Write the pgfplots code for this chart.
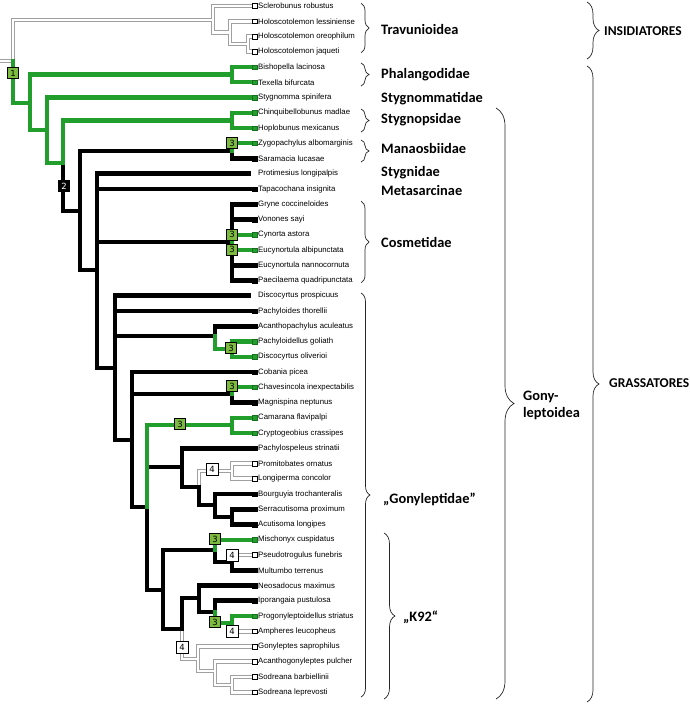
\documentclass[border=0pt]{standalone}
\usepackage{pgfplots}
\pgfplotsset{compat=1.18}
\usepackage{fontspec}
\setmainfont{Liberation Sans}
\newfontfamily\grp{Carlito}
\newfontfamily\boxf{DejaVu Sans}
\usetikzlibrary{decorations.pathreplacing}
\definecolor{brgreen}{RGB}{34,158,44}
\definecolor{boxgreen}{RGB}{124,186,64}
\definecolor{lgray}{RGB}{160,160,160}
\newcommand\leaf{\fontsize{7.8}{9}\selectfont}
\newcommand\grpf{\grp\bfseries\fontsize{14.4}{17}\selectfont}
\newcommand\capf{\grp\bfseries\fontsize{13.5}{16}\selectfont}
\tikzset{
 gryout/.style={lgray, line width=4.6pt, line cap=rect},
 gryin/.style={white, line width=2.8pt, line cap=rect},
 blk/.style={black, line width=4.8pt, line cap=rect},
 grn/.style={brgreen, line width=4.3pt, line cap=rect},
 brc/.style={decorate, draw=black!85, line width=0.7pt},
 bx/.style={draw=black, line width=0.9pt, inner sep=0pt, minimum size=11pt, anchor=center, font=\boxf\fontsize{8.5}{9}\selectfont},
}
\newcommand\graypaths[1]{%
 \addplot[#1] coordinates {(0,61)(13,61)};
 \addplot[#1] coordinates {(13,61)(13,20)(213,20)};
 \addplot[#1] coordinates {(213,20)(213,6)(251,6)};
 \addplot[#1] coordinates {(213,20)(213,32.6)(230,32.6)};
 \addplot[#1] coordinates {(230,32.6)(230,21.25)(251,21.25)};
 \addplot[#1] coordinates {(230,32.6)(230,44)(248,44)};
 \addplot[#1] coordinates {(248,44)(248,36.5)(251,36.5)};
 \addplot[#1] coordinates {(248,44)(248,51.75)(251,51.75)};
 \addplot[#1] coordinates {(199,487)(199,471)(232,471)};
 \addplot[#1] coordinates {(232,471)(232,463.5)(251,463.5)};
 \addplot[#1] coordinates {(232,471)(232,478.75)(251,478.75)};
 \addplot[#1] coordinates {(232,562)(232,555)(251,555)};
 \addplot[#1] coordinates {(232,623)(232,631.25)(251,631.25)};
 \addplot[#1] coordinates {(182,629)(182,659)(198,659)};
 \addplot[#1] coordinates {(198,659)(198,646.5)(251,646.5)};
 \addplot[#1] coordinates {(198,659)(198,671)(215,671)};
 \addplot[#1] coordinates {(215,671)(215,661.75)(251,661.75)};
 \addplot[#1] coordinates {(215,671)(215,685)(232,685)};
 \addplot[#1] coordinates {(232,685)(232,677)(251,677)};
 \addplot[#1] coordinates {(232,685)(232,692.25)(251,692.25)};
}
\begin{document}
\begin{tikzpicture}
\begin{axis}[scale only axis, width=690pt, height=704pt,
  xmin=0, xmax=690, ymin=0, ymax=704, y dir=reverse, hide axis, clip=false]
% gray (white) branches
\graypaths{gryout}
\graypaths{gryin}
% black branches
\addplot[blk] coordinates {(63,163)(63,211)(80,211)};
\addplot[blk] coordinates {(80,211)(80,150.9)(232,150.9)};
\addplot[blk] coordinates {(232,150.9)(232,158.5)(251,158.5)};
\addplot[blk] coordinates {(80,211)(80,270)(97,270)};
\addplot[blk] coordinates {(97,270)(97,173.75)(249,173.75)};
\addplot[blk] coordinates {(97,270)(97,189)(251,189)};
\addplot[blk] coordinates {(97,270)(97,242)(232,242)};
\addplot[blk] coordinates {(97,270)(97,368)(115,368)};
\addplot[blk] coordinates {(232,242)(232,204.25)(251,204.25)};
\addplot[blk] coordinates {(232,242)(232,219.5)(251,219.5)};
\addplot[blk] coordinates {(232,242)(232,265.25)(251,265.25)};
\addplot[blk] coordinates {(232,242)(232,280.5)(251,280.5)};
\addplot[blk] coordinates {(115,368)(115,295.75)(249,295.75)};
\addplot[blk] coordinates {(115,368)(115,311)(251,311)};
\addplot[blk] coordinates {(115,368)(115,336)(215,336)};
\addplot[blk] coordinates {(115,368)(115,440)(132,440)};
\addplot[blk] coordinates {(215,336)(215,326.25)(251,326.25)};
\addplot[blk] coordinates {(132,440)(132,372)(251,372)};
\addplot[blk] coordinates {(132,440)(132,394)(232,394)};
\addplot[blk] coordinates {(132,440)(132,507)(147,507)};
\addplot[blk] coordinates {(232,394)(232,402.5)(251,402.5)};
\addplot[blk] coordinates {(147,507)(147,467)(182,467)};
\addplot[blk] coordinates {(147,507)(147,590)(163,590)};
\addplot[blk] coordinates {(182,467)(182,448.25)(251,448.25)};
\addplot[blk] coordinates {(182,467)(182,487)(199,487)};
\addplot[blk] coordinates {(199,487)(199,505)(215,505)};
\addplot[blk] coordinates {(215,505)(215,494)(251,494)};
\addplot[blk] coordinates {(215,505)(215,517)(232,517)};
\addplot[blk] coordinates {(232,517)(232,509.25)(251,509.25)};
\addplot[blk] coordinates {(232,517)(232,524.5)(251,524.5)};
\addplot[blk] coordinates {(163,590)(163,550)(215,550)};
\addplot[blk] coordinates {(163,590)(163,629)(182,629)};
\addplot[blk] coordinates {(215,550)(215,562)(232,562)};
\addplot[blk] coordinates {(232,562)(232,570.25)(251,570.25)};
\addplot[blk] coordinates {(182,629)(182,598)(199,598)};
\addplot[blk] coordinates {(199,598)(199,585.5)(251,585.5)};
\addplot[blk] coordinates {(199,598)(199,612)(215,612)};
\addplot[blk] coordinates {(215,612)(215,600.75)(251,600.75)};
% green branches
\addplot[grn] coordinates {(13,61)(13,103)(30,103)};
\addplot[grn] coordinates {(30,103)(30,74.6)(232,74.6)};
\addplot[grn] coordinates {(232,74.6)(232,67)(251,67)};
\addplot[grn] coordinates {(232,74.6)(232,82.25)(251,82.25)};
\addplot[grn] coordinates {(30,103)(30,130)(47,130)};
\addplot[grn] coordinates {(47,130)(47,97.5)(251,97.5)};
\addplot[grn] coordinates {(47,130)(47,163)(63,163)};
\addplot[grn] coordinates {(63,163)(63,120.4)(232,120.4)};
\addplot[grn] coordinates {(232,120.4)(232,112.75)(251,112.75)};
\addplot[grn] coordinates {(232,120.4)(232,128)(251,128)};
\addplot[grn] coordinates {(232,150.9)(232,143.25)(251,143.25)};
\addplot[grn] coordinates {(232,242)(232,234.75)(251,234.75)};
\addplot[grn] coordinates {(232,242)(232,250)(251,250)};
\addplot[grn] coordinates {(215,336)(215,349)(232,349)};
\addplot[grn] coordinates {(232,349)(232,341.5)(251,341.5)};
\addplot[grn] coordinates {(232,349)(232,356.75)(251,356.75)};
\addplot[grn] coordinates {(232,394)(232,387.25)(251,387.25)};
\addplot[grn] coordinates {(147,507)(147,425)(232,425)};
\addplot[grn] coordinates {(232,425)(232,417.75)(251,417.75)};
\addplot[grn] coordinates {(232,425)(232,433)(251,433)};
\addplot[grn] coordinates {(215,550)(215,539.75)(251,539.75)};
\addplot[grn] coordinates {(215,612)(215,623)(232,623)};
\addplot[grn] coordinates {(232,623)(232,616)(251,616)};
% leaf markers
\addplot[only marks, mark=square*, mark size=2.3pt, mark options={fill=white, draw=black, line width=0.5pt}] coordinates {
(254.5,6)(254.5,21.25)(254.5,36.5)(254.5,51.75)(254.5,463.5)(254.5,478.75)(254.5,555)(254.5,631.25)(254.5,646.5)(254.5,661.75)(254.5,677)(254.5,692.25)};
\addplot[only marks, mark=square*, mark size=2.3pt, mark options={fill=brgreen, draw=brgreen!70!black, line width=0.4pt}] coordinates {
(254.5,67)(254.5,82.25)(254.5,97.5)(254.5,112.75)(254.5,128)(254.5,143.25)(254.5,234.75)(254.5,250)(254.5,341.5)(254.5,356.75)(254.5,387.25)(254.5,417.75)(254.5,433)(254.5,539.75)(254.5,616)};
\addplot[only marks, mark=square*, mark size=2.3pt, mark options={fill=black, draw=black}] coordinates {
(254.5,158.5)(254.5,189)(254.5,204.25)(254.5,219.5)(254.5,265.25)(254.5,280.5)(254.5,311)(254.5,326.25)(254.5,372)(254.5,402.5)(254.5,448.25)(254.5,494)(254.5,509.25)(254.5,524.5)(254.5,570.25)(254.5,585.5)(254.5,600.75)};
% node boxes
\addplot[draw=none, nodes near coords, point meta=explicit symbolic,
  nodes near coords style={bx, fill=boxgreen, text=black}] table[meta=l] {
x y l
13 73 1
232 143 3
232 234.5 3
232 249.5 3
231 348 3
232 386 3
180 424 3
215 539 3
215 622 3
};
\addplot[draw=none, nodes near coords, point meta=explicit symbolic,
  nodes near coords style={bx, fill=black, text=white}] table[meta=l] {
x y l
64 186 2
};
\addplot[draw=none, nodes near coords, point meta=explicit symbolic,
  nodes near coords style={bx, fill=white, text=black, minimum size=12pt}] table[meta=l] {
x y l
212 469 4
232 555 4
182 647 4
232 631.5 4
};
% braces
\addplot[brc, decoration={brace, amplitude=8pt}] coordinates {(361,3)(361,53)};
\addplot[brc, decoration={brace, amplitude=8pt}] coordinates {(361,63)(361,86)};
\addplot[brc, decoration={brace, amplitude=8pt}] coordinates {(361,109)(361,132)};
\addplot[brc, decoration={brace, amplitude=8pt}] coordinates {(361,140)(361,162)};
\addplot[brc, decoration={brace, amplitude=8pt}] coordinates {(361,201)(361,283)};
\addplot[brc, decoration={brace, amplitude=9pt}] coordinates {(361,293)(361,697)};
\addplot[brc, decoration={brace, amplitude=11pt}] coordinates {(384,533)(384,699)};
\addplot[brc, decoration={brace, amplitude=18pt}] coordinates {(496,108)(496,699)};
\addplot[brc, decoration={brace, amplitude=12pt}] coordinates {(587,2)(587,59)};
\addplot[brc, decoration={brace, amplitude=12pt}] coordinates {(587,66)(587,702)};
% group labels
\node[anchor=west, inner sep=0pt, font=\grpf] at (axis cs:381,29) {Travunioidea};
\node[anchor=west, inner sep=0pt, font=\grpf] at (axis cs:381,75) {Phalangodidae};
\node[anchor=west, inner sep=0pt, font=\grpf] at (axis cs:381,99) {Stygnommatidae};
\node[anchor=west, inner sep=0pt, font=\grpf] at (axis cs:381,120) {Stygnopsidae};
\node[anchor=west, inner sep=0pt, font=\grpf] at (axis cs:381,148) {Manaosbiidae};
\node[anchor=west, inner sep=0pt, font=\grpf] at (axis cs:381,173) {Stygnidae};
\node[anchor=west, inner sep=0pt, font=\grpf] at (axis cs:381,190) {Metasarcinae};
\node[anchor=west, inner sep=0pt, font=\grpf] at (axis cs:381,242) {Cosmetidae};
\node[anchor=west, inner sep=0pt, font=\grpf] at (axis cs:383,499) {„Gonyleptidae”};
\node[anchor=west, inner sep=0pt, font=\grpf] at (axis cs:403,617) {„K92“};
\node[anchor=west, inner sep=0pt, font=\grpf] at (axis cs:523,397) {Gony-};
\node[anchor=west, inner sep=0pt, font=\grpf] at (axis cs:523,414) {leptoidea};
\node[anchor=west, inner sep=0pt, font=\capf] at (axis cs:609,383) {GRASSATORES};
\node[anchor=west, inner sep=0pt, font=\capf] at (axis cs:604,31) {INSIDIATORES};
% leaf labels
\begin{scope}[every node/.style={anchor=west, inner sep=0pt, font=\leaf, text=black}]
\node at (axis cs:258,6) {Sclerobunus robustus};
\node at (axis cs:258,21.25) {Holoscotolemon lessiniense};
\node at (axis cs:258,36.5) {Holoscotolemon oreophilum};
\node at (axis cs:258,51.75) {Holoscotolemon jaqueti};
\node at (axis cs:258,67) {Bishopella lacinosa};
\node at (axis cs:258,82.25) {Texella bifurcata};
\node at (axis cs:258,97.5) {Stygnomma spinifera};
\node at (axis cs:258,112.75) {Chinquibellobunus madlae};
\node at (axis cs:258,128) {Hoplobunus mexicanus};
\node at (axis cs:258,143.25) {Zygopachylus albomarginis};
\node at (axis cs:258,158.5) {Saramacia lucasae};
\node at (axis cs:258,173.75) {Protimesius longipalpis};
\node at (axis cs:258,189) {Tapacochana insignita};
\node at (axis cs:258,204.25) {Gryne coccineloides};
\node at (axis cs:258,219.5) {Vonones sayi};
\node at (axis cs:258,234.75) {Cynorta astora};
\node at (axis cs:258,250) {Eucynortula albipunctata};
\node at (axis cs:258,265.25) {Eucynortula nannocornuta};
\node at (axis cs:258,280.5) {Paecilaema quadripunctata};
\node at (axis cs:258,295.75) {Discocyrtus prospicuus};
\node at (axis cs:258,311) {Pachyloides thorellii};
\node at (axis cs:258,326.25) {Acanthopachylus aculeatus};
\node at (axis cs:258,341.5) {Pachyloidellus goliath};
\node at (axis cs:258,356.75) {Discocyrtus oliverioi};
\node at (axis cs:258,372) {Cobania picea};
\node at (axis cs:258,387.25) {Chavesincola inexpectabilis};
\node at (axis cs:258,402.5) {Magnispina neptunus};
\node at (axis cs:258,417.75) {Camarana flavipalpi};
\node at (axis cs:258,433) {Cryptogeobius crassipes};
\node at (axis cs:258,448.25) {Pachylospeleus strinatii};
\node at (axis cs:258,463.5) {Promitobates ornatus};
\node at (axis cs:258,478.75) {Longiperma concolor};
\node at (axis cs:258,494) {Bourguyia trochanteralis};
\node at (axis cs:258,509.25) {Serracutisoma proximum};
\node at (axis cs:258,524.5) {Acutisoma longipes};
\node at (axis cs:258,539.75) {Mischonyx cuspidatus};
\node at (axis cs:258,555) {Pseudotrogulus funebris};
\node at (axis cs:258,570.25) {Multumbo terrenus};
\node at (axis cs:258,585.5) {Neosadocus maximus};
\node at (axis cs:258,600.75) {Iporangaia pustulosa};
\node at (axis cs:258,616) {Progonyleptoidellus striatus};
\node at (axis cs:258,631.25) {Ampheres leucopheus};
\node at (axis cs:258,646.5) {Gonyleptes saprophilus};
\node at (axis cs:258,661.75) {Acanthogonyleptes pulcher};
\node at (axis cs:258,677) {Sodreana barbiellinii};
\node at (axis cs:258,692.25) {Sodreana leprevosti};
\end{scope}
\end{axis}
\pgfresetboundingbox
\useasboundingbox (current axis.south west) rectangle (current axis.north east);
\end{tikzpicture}
\end{document}
